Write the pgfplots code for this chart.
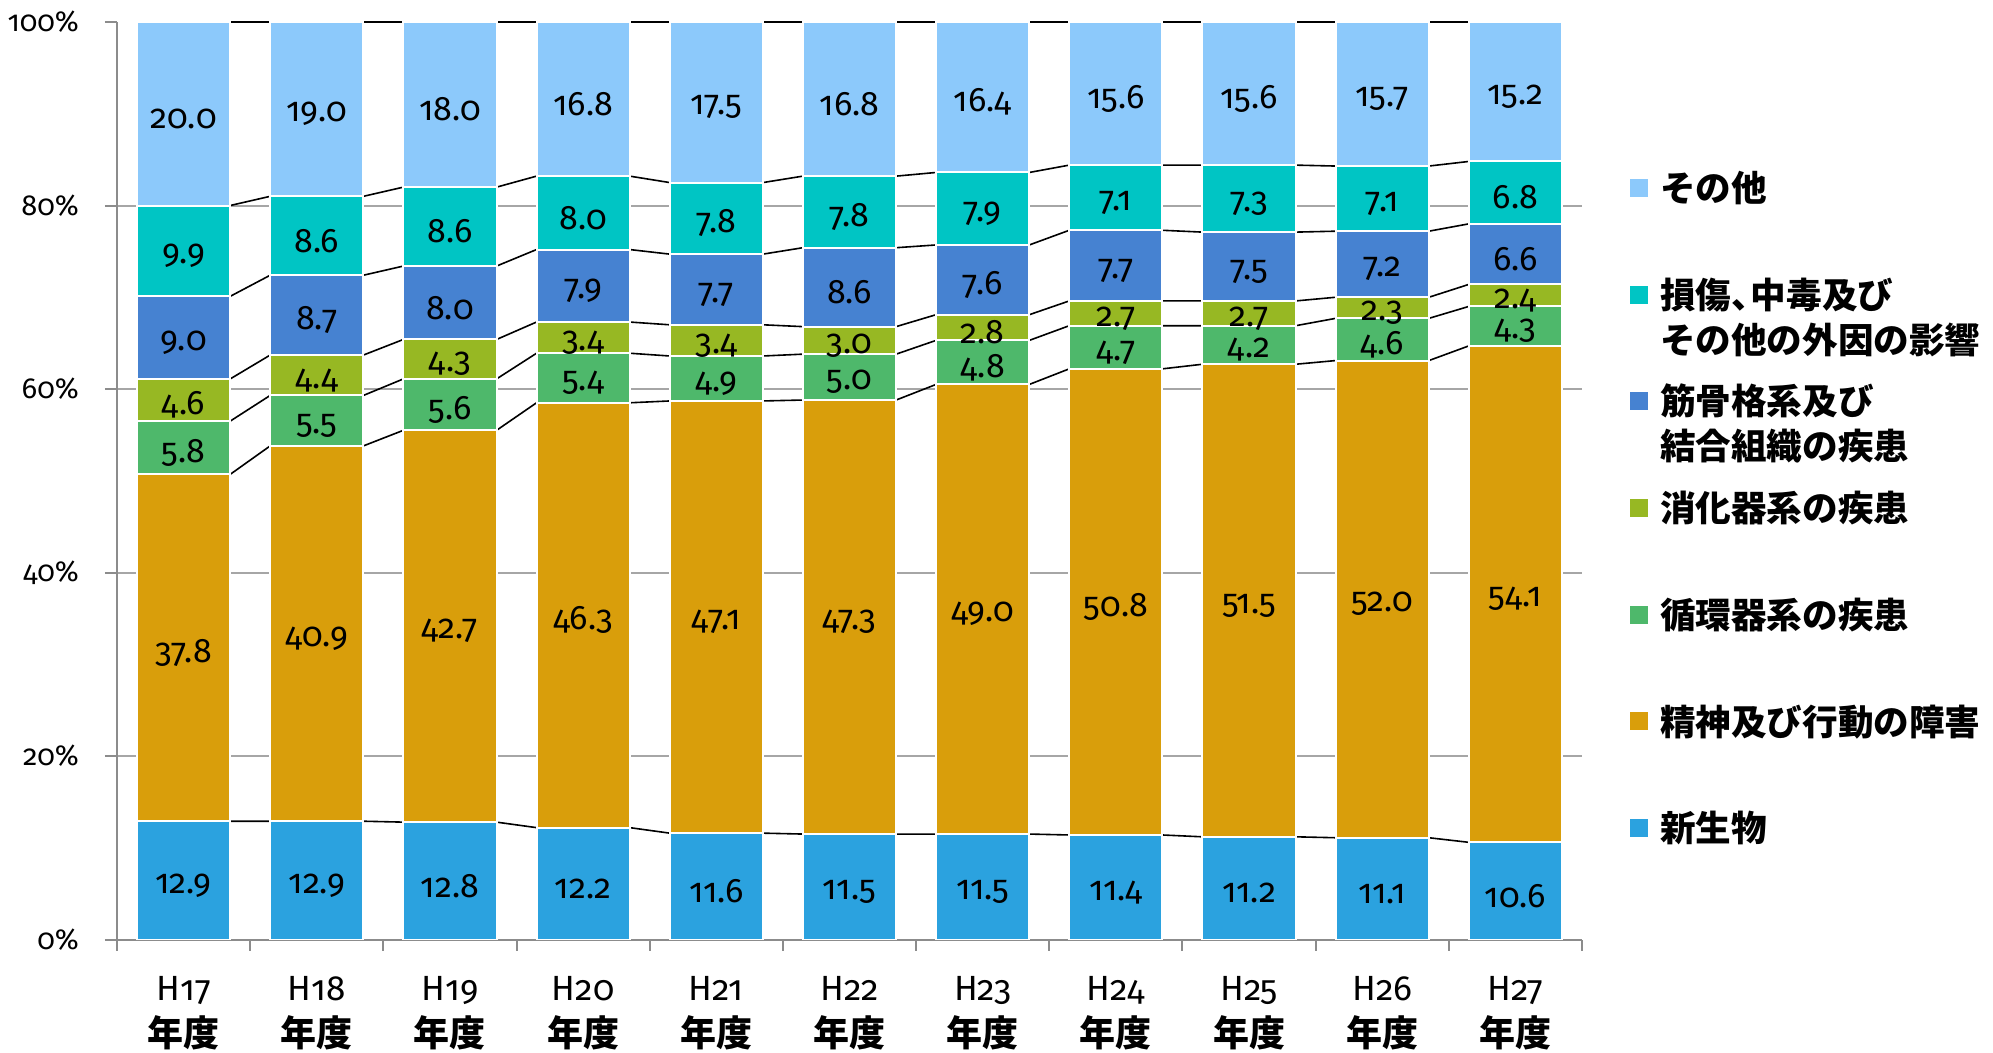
\documentclass[border=0pt]{standalone}
\usepackage{pgfplots}
\usepackage{pgfplotstable}
\pgfplotsset{compat=1.18}
\usepackage{fontspec}
\setmainfont{Fira Sans}[Numbers=OldStyle]
\newfontfamily\cjk{Noto Sans CJK JP}
\definecolor{cNeo}{HTML}{2BA2DF}
\definecolor{cMen}{HTML}{D99E0B}
\definecolor{cCir}{HTML}{4EB86B}
\definecolor{cDig}{HTML}{97B823}
\definecolor{cMus}{HTML}{4682D1}
\definecolor{cInj}{HTML}{00C5C4}
\definecolor{cOth}{HTML}{8CC9FB}
\definecolor{cAx}{HTML}{8C8C8C}
\definecolor{cGrid}{HTML}{A6A6A6}

\pgfplotstableread{
x  neo   men   cir  dig  mus  inj  oth
0  12.9  37.8  5.8  4.6  9.0  9.9  20.0
1  12.9  40.9  5.5  4.4  8.7  8.6  19.0
2  12.8  42.7  5.6  4.3  8.0  8.6  18.0
3  12.2  46.3  5.4  3.4  7.9  8.0  16.8
4  11.6  47.1  4.9  3.4  7.7  7.8  17.5
5  11.5  47.3  5.0  3.0  8.6  7.8  16.8
6  11.5  49.0  4.8  2.8  7.6  7.9  16.4
7  11.4  50.8  4.7  2.7  7.7  7.1  15.6
8  11.2  51.5  4.2  2.7  7.5  7.3  15.6
9  11.1  52.0  4.6  2.3  7.2  7.1  15.7
10 10.6  54.1  4.3  2.4  6.6  6.8  15.2
}\data

% same values, at the left and right edge of each bar (for the series lines)
\pgfplotstableread{
x      neo   men   cir  dig  mus  inj  oth
-0.35  12.9  37.8  5.8  4.6  9.0  9.9  20.0
0.35   12.9  37.8  5.8  4.6  9.0  9.9  20.0
0.65   12.9  40.9  5.5  4.4  8.7  8.6  19.0
1.35   12.9  40.9  5.5  4.4  8.7  8.6  19.0
1.65   12.8  42.7  5.6  4.3  8.0  8.6  18.0
2.35   12.8  42.7  5.6  4.3  8.0  8.6  18.0
2.65   12.2  46.3  5.4  3.4  7.9  8.0  16.8
3.35   12.2  46.3  5.4  3.4  7.9  8.0  16.8
3.65   11.6  47.1  4.9  3.4  7.7  7.8  17.5
4.35   11.6  47.1  4.9  3.4  7.7  7.8  17.5
4.65   11.5  47.3  5.0  3.0  8.6  7.8  16.8
5.35   11.5  47.3  5.0  3.0  8.6  7.8  16.8
5.65   11.5  49.0  4.8  2.8  7.6  7.9  16.4
6.35   11.5  49.0  4.8  2.8  7.6  7.9  16.4
6.65   11.4  50.8  4.7  2.7  7.7  7.1  15.6
7.35   11.4  50.8  4.7  2.7  7.7  7.1  15.6
7.65   11.2  51.5  4.2  2.7  7.5  7.3  15.6
8.35   11.2  51.5  4.2  2.7  7.5  7.3  15.6
8.65   11.1  52.0  4.6  2.3  7.2  7.1  15.7
9.35   11.1  52.0  4.6  2.3  7.2  7.1  15.7
9.65   10.6  54.1  4.3  2.4  6.6  6.8  15.2
10.35  10.6  54.1  4.3  2.4  6.6  6.8  15.2
}\lines

\pgfplotsset{
  base/.style={
    scale only axis, width=732.5pt, height=458.8pt,
    xmin=-0.5, xmax=10.5, ymin=0, ymax=100,
  },
  sline/.style={black, line width=0.8pt, mark=none},
  bars/.style={fill=#1, draw=white, line width=1pt},
  lab/.style={draw=none, mark=none, point meta=explicit, forget plot,
    nodes near coords={\pgfmathprintnumber[fixed,fixed zerofill,precision=1]{\pgfplotspointmeta}}},
}
\newcommand\nendo{{\fontsize{18}{23}\cjk\bfseries 年度}}
% legend entry: colour square, then the (possibly two-line) text
\newcommand\leg[2]{\smash{\textcolor{#1}{\rule[2.3pt]{9pt}{9pt}}\hspace{6pt}\begin{tabular}[t]{@{}l@{}}#2\end{tabular}}}

\begin{document}
\begin{tikzpicture}
% background: grid and series lines
\begin{axis}[base,
  axis line style={draw=none},
  ytick={20,40,60,80}, yticklabels={}, xtick=\empty,
  major tick length=0pt,
  ymajorgrids, major grid style={cGrid, line width=1pt},
  stack plots=y,
]
\addplot[sline] table[x=x,y=neo] {\lines};
\addplot[sline] table[x=x,y=men] {\lines};
\addplot[sline] table[x=x,y=cir] {\lines};
\addplot[sline] table[x=x,y=dig] {\lines};
\addplot[sline] table[x=x,y=mus] {\lines};
\addplot[sline] table[x=x,y=inj] {\lines};
\addplot[sline] table[x=x,y=oth] {\lines};
\end{axis}
% bars
\begin{axis}[base,
  ybar stacked, bar width=0.7,
  axis lines=left,
  axis line style={-, cAx, line width=1pt},
  tick align=outside,
  ytick={0,20,...,100},
  yticklabel={\pgfmathprintnumber{\tick}\%},
  /pgf/number format/assume math mode=true,
  xtick={0,...,10},
  xticklabels={{H17\\\nendo},{H18\\\nendo},{H19\\\nendo},{H20\\\nendo},{H21\\\nendo},{H22\\\nendo},{H23\\\nendo},{H24\\\nendo},{H25\\\nendo},{H26\\\nendo},{H27\\\nendo}},
  minor xtick={-0.5,0.5,...,10.5},
  major x tick style={draw=none},
  minor x tick style={cAx, line width=1pt},
  major y tick style={cAx, line width=1pt},
  major tick length=6pt, minor tick length=5.5pt,
  yticklabel style={font=\fontsize{14.5}{18}\selectfont, xshift=-9.5pt},
  xticklabel style={font=\fontsize{17.5}{23}\selectfont, align=center, yshift=-9pt},
]
\addplot[bars=cNeo] table[x=x,y=neo] {\data};
\addplot[bars=cMen] table[x=x,y=men] {\data};
\addplot[bars=cCir] table[x=x,y=cir] {\data};
\addplot[bars=cDig] table[x=x,y=dig] {\data};
\addplot[bars=cMus] table[x=x,y=mus] {\data};
\addplot[bars=cInj] table[x=x,y=inj] {\data};
\addplot[bars=cOth] table[x=x,y=oth] {\data};
\end{axis}
% value labels at the middle of each segment, and the legend
\begin{axis}[base, hide axis, stack plots=y,
  /pgf/number format/assume math mode=true,
  every node near coord/.append style={anchor=center, yshift=-2.5pt, text=black, font=\fontsize{17}{20}\selectfont},
  legend cell align=left,
  legend style={at={(rel axis cs:1,1)}, anchor=north west, xshift=24pt, yshift=-89.8pt,
    draw=none, fill=none, inner sep=0pt, outer sep=0pt, row sep=51.85pt,
    nodes={inner sep=0pt, outer sep=0pt, font=\fontsize{17.8}{22.5}\cjk\bfseries}},
]
\addplot[lab] table[x=x, y expr=\thisrow{neo}/2, meta=neo] {\data};
\addplot[lab] table[x=x, y expr=(\thisrow{neo}+\thisrow{men})/2, meta=men] {\data};
\addplot[lab] table[x=x, y expr=(\thisrow{men}+\thisrow{cir})/2, meta=cir] {\data};
\addplot[lab] table[x=x, y expr=(\thisrow{cir}+\thisrow{dig})/2, meta=dig] {\data};
\addplot[lab] table[x=x, y expr=(\thisrow{dig}+\thisrow{mus})/2, meta=mus] {\data};
\addplot[lab] table[x=x, y expr=(\thisrow{mus}+\thisrow{inj})/2, meta=inj] {\data};
\addplot[lab] table[x=x, y expr=(\thisrow{inj}+\thisrow{oth})/2, meta=oth] {\data};
\addlegendimage{empty legend}
\addlegendentry{\leg{cOth}{その他}}
\addlegendimage{empty legend}
\addlegendentry{\leg{cInj}{損傷、\kern-0.45em中毒及び\\その他の外因の影響}}
\addlegendimage{empty legend}
\addlegendentry{\leg{cMus}{筋骨格系及び\\結合組織の疾患}}
\addlegendimage{empty legend}
\addlegendentry{\leg{cDig}{消化器系の疾患}}
\addlegendimage{empty legend}
\addlegendentry{\leg{cCir}{循環器系の疾患}}
\addlegendimage{empty legend}
\addlegendentry{\leg{cMen}{精神及び行動の障害}}
\addlegendimage{empty legend}
\addlegendentry{\leg{cNeo}{新生物}}
\end{axis}
\pgfresetboundingbox
\path (-58.5pt,-56.5pt) rectangle (938pt,469.8pt);
\end{tikzpicture}
\end{document}
